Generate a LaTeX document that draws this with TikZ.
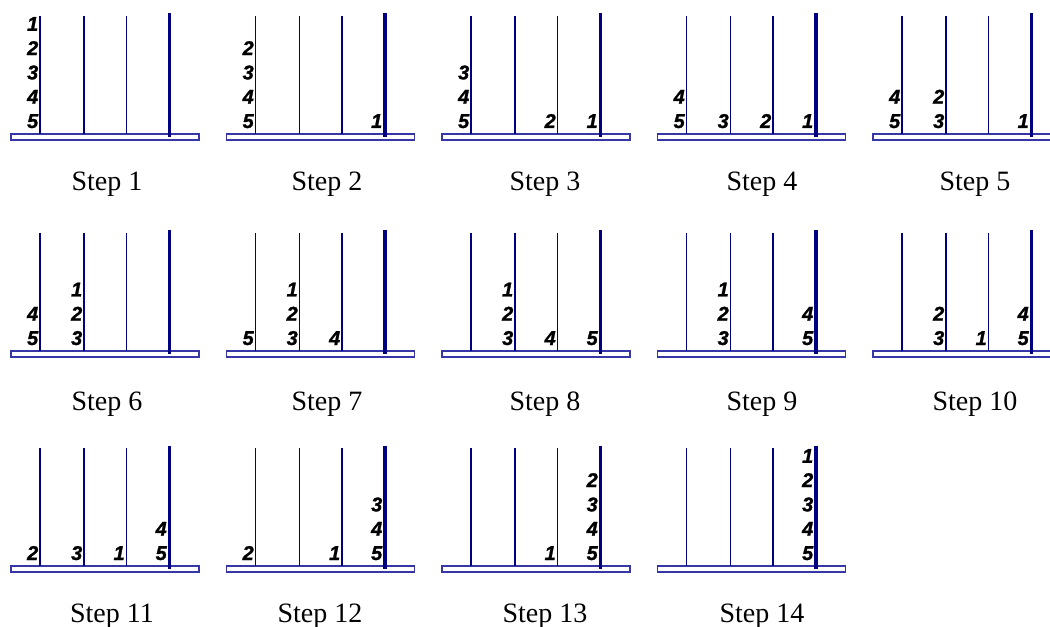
\documentclass[tikz,border=0pt]{standalone}
\usepackage{fontspec}
\setmainfont{Liberation Serif}
\newfontfamily\diskfont{Liberation Sans}[BoldItalicFeatures={FakeBold=1.2}]
\definecolor{hanoipeg}{HTML}{000080}
\definecolor{hanoibase}{HTML}{3636A6}

% #1 step, #2 left x of the base, #3 top y of the pegs,
% #4 x of the caption, #5 y of the caption, #6 disks as peg/level/number
\newcommand{\hanoistep}[6]{%
  \draw[base] (#2,#3+119) rectangle (#2+188,#3+125);
  \foreach \dx in {29,73,115.5} {
    \draw[peg] (#2+\dx,#3+1) -- (#2+\dx,#3+119);
  }
  \draw[target] (#2+158.5,#3-1.5) -- (#2+158.5,#3+122);
  \foreach \p/\l/\d in {#6} {
    \pgfmathsetmacro\px{{27.5,71.5,114,156}[\p-1]}
    \node[disk] (s#1d\d) at (#2+\px,#3+113-24.3*\l) {\d};
  }
  \node[caption] (step#1) at (#4,#5) {Step #1};
}

\begin{document}
\begin{tikzpicture}[
  x={(0.75pt,0)},
  y={(0,-0.75pt)},
  line cap=butt,
  base/.style={draw=hanoibase,fill=white,line width=1.1pt},
  peg/.style={draw=hanoipeg,line width=0.95pt},
  target/.style={draw=hanoipeg,line width=2.6pt},
  disk/.style={anchor=base east,inner sep=0pt,
    font=\diskfont\bfseries\itshape\fontsize{15}{15}\selectfont},
  caption/.style={anchor=base,inner sep=0pt,font=\fontsize{21}{21}\selectfont}
]
  \useasboundingbox (0,0) rectangle (1050,627);

  % First row: the small disks leave the first peg.
  \hanoistep{1}{11}{15}{107}{191}{1/0/5,1/1/4,1/2/3,1/3/2,1/4/1}
  \hanoistep{2}{226.5}{15}{327}{191}{1/0/5,1/1/4,1/2/3,1/3/2,4/0/1}
  \hanoistep{3}{442}{15}{545}{191}{1/0/5,1/1/4,1/2/3,3/0/2,4/0/1}
  \hanoistep{4}{657.5}{15}{762}{191}{1/0/5,1/1/4,2/0/3,3/0/2,4/0/1}
  \hanoistep{5}{873}{15}{975}{191}{1/0/5,1/1/4,2/0/3,2/1/2,4/0/1}

  % Second row.
  \hanoistep{6}{11}{232}{107}{410}{1/0/5,1/1/4,2/0/3,2/1/2,2/2/1}
  \hanoistep{7}{226.5}{232}{327}{410}{1/0/5,2/0/3,2/1/2,2/2/1,3/0/4}
  \hanoistep{8}{442}{232}{545}{410}{2/0/3,2/1/2,2/2/1,3/0/4,4/0/5}
  \hanoistep{9}{657.5}{232}{762}{410}{2/0/3,2/1/2,2/2/1,4/0/5,4/1/4}
  \hanoistep{10}{873}{232}{975}{410}{2/0/3,2/1/2,3/0/1,4/0/5,4/1/4}

  % Third row: the tower is rebuilt on the thick peg.
  \hanoistep{11}{11}{447}{112}{622}{1/0/2,2/0/3,3/0/1,4/0/5,4/1/4}
  \hanoistep{12}{226.5}{447}{320}{622}{1/0/2,3/0/1,4/0/5,4/1/4,4/2/3}
  \hanoistep{13}{442}{447}{545}{622}{3/0/1,4/0/5,4/1/4,4/2/3,4/3/2}
  \hanoistep{14}{657.5}{447}{762}{622}{4/0/5,4/1/4,4/2/3,4/3/2,4/4/1}
\end{tikzpicture}
\end{document}
